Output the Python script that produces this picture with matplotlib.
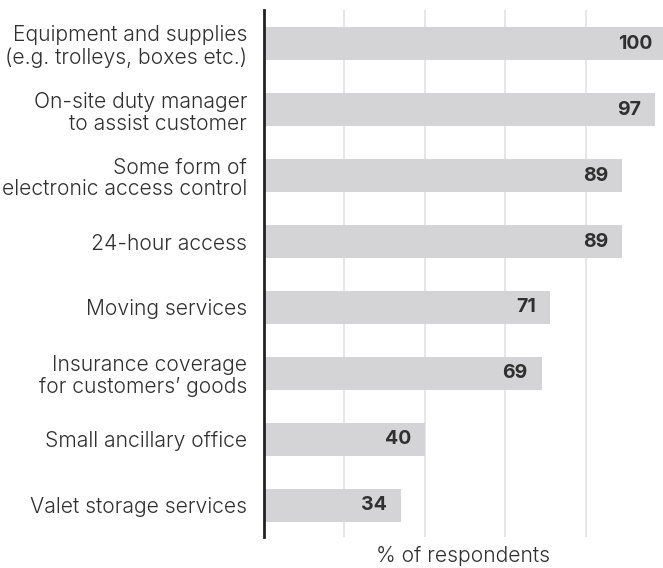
import matplotlib.pyplot as plt

# DATA

labels = ["Equipment and supplies\n(e.g. trolleys, boxes etc.)",
          "On-site duty manager\nto assist customer",
          "Some form of\nelectronic access control",
          "24-hour access",
          "Moving services",
          "Insurance coverage\nfor customers\u2019 goods",
          "Small ancillary office",
          "Valet storage services"]
values = [100, 97, 89, 89, 71, 69, 40, 34]
grid_ticks = [20, 40, 60, 80]

# STYLE

plt.rcParams['font.family'] = ['Inter', 'DejaVu Sans']
text_col = "#303030"

fig = plt.figure(figsize=(6.63, 5.68), dpi=100)
ax = fig.add_axes([0.3977, 0.0546, 0.6023, 0.9278])

pos = list(range(len(values)))
ax.barh(pos, values, height=0.5, color="#d4d4d6", zorder=2)

for p, v in zip(pos, values):
    ax.annotate(str(v), xy=(v, p), xytext=(-10, 0), textcoords="offset points",
                ha="right", va="center", fontsize=14, fontweight="bold",
                color=text_col, zorder=3, annotation_clip=False)

ax.set_xlim(0, 99.1)
ax.set_ylim(7.48, -0.51)
ax.set_xticks(grid_ticks)
ax.set_xticklabels([])
ax.tick_params(axis="x", length=0)
ax.grid(axis="x", color="#e2e2e2", linewidth=1.2, zorder=0)
ax.set_yticks(pos)
ax.set_yticklabels(labels, fontsize=15.2, color=text_col, fontweight=300,
                   linespacing=1.12)
ax.tick_params(axis="y", length=0, pad=12)
for s in ["top", "right", "bottom"]:
    ax.spines[s].set_visible(False)
ax.spines["left"].set_color("#222222")
ax.spines["left"].set_linewidth(2)
ax.spines["left"].set_zorder(4)

ax.set_xlabel("% of respondents", fontsize=15.2, color=text_col, fontweight=300,
              labelpad=3)

fig.savefig("out.png", dpi=100)
